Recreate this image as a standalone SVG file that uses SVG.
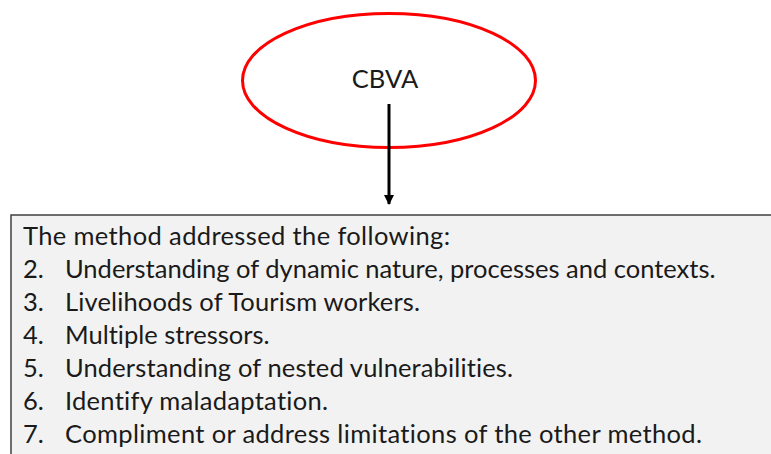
<svg xmlns="http://www.w3.org/2000/svg" width="771" height="454" viewBox="0 0 771 454">
  <style>
    .lbl { font-family: Lato, "Open Sans", sans-serif; font-size: 25.5px; fill: #1a1a1a; font-variant-ligatures: none; }
    .edge { stroke: #000; stroke-width: 3; fill: none; }
  </style>
  <defs>
    <marker id="arrow" viewBox="0 0 10 10" refX="9" refY="5" markerWidth="3.4" markerHeight="3.4" orient="auto" markerUnits="strokeWidth">
      <path d="M0,0 L10,5 L0,10 Z" fill="#000"/>
    </marker>
  </defs>
  <rect width="771" height="454" fill="#fff"/>

  <g id="cbva">
    <ellipse cx="389" cy="80.5" rx="146.5" ry="67" fill="none" stroke="#ff0000" stroke-width="3"/>
    <text class="lbl" x="385" y="88" text-anchor="middle">CBVA</text>
  </g>

  <g id="method-box">
    <rect x="11" y="215" width="770" height="260" fill="#f2f2f2" stroke="#404040" stroke-width="1.5"/>
    <text class="lbl" x="23" y="245" textLength="427">The method addressed the following:</text>
    <text class="lbl" x="23" y="278">2.</text>
    <text class="lbl" x="65" y="278">Understanding of dynamic nature, processes and contexts.</text>
    <text class="lbl" x="23" y="311">3.</text>
    <text class="lbl" x="65" y="311" textLength="355">Livelihoods of Tourism workers.</text>
    <text class="lbl" x="23" y="344">4.</text>
    <text class="lbl" x="65" y="344">Multiple stressors.</text>
    <text class="lbl" x="23" y="377">5.</text>
    <text class="lbl" x="65" y="377" textLength="448">Understanding of nested vulnerabilities.</text>
    <text class="lbl" x="23" y="410">6.</text>
    <text class="lbl" x="65" y="410" textLength="263">Identify maladaptation.</text>
    <text class="lbl" x="23" y="443">7.</text>
    <text class="lbl" x="65" y="443" textLength="637">Compliment or address limitations of the other method.</text>
  </g>

  <g id="connectors">
    <line class="edge" x1="389" y1="104" x2="389" y2="204" marker-end="url(#arrow)"/>
  </g>
</svg>
